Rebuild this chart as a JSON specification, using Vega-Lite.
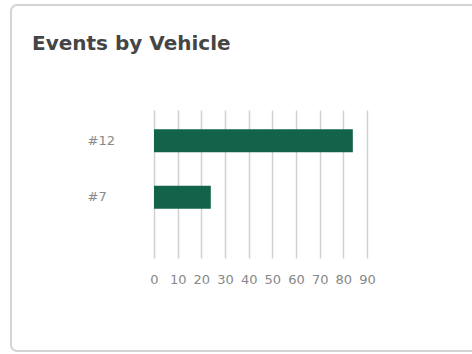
{
  "$schema": "https://vega.github.io/schema/vega-lite/v6.json",
  "width": 466,
  "height": 346,
  "autosize": "none",
  "padding": {"left": 11, "top": 5, "right": 0, "bottom": 3},
  "background": "white",
  "title": {
    "text": "Events by Vehicle",
    "anchor": "start",
    "frame": "group",
    "dx": 21,
    "offset": -65,
    "baseline": "alphabetic",
    "font": "DejaVu Sans",
    "fontSize": 20,
    "fontWeight": "bold",
    "color": "#454545"
  },
  "data": {
    "values": [
      {"vehicle": "#12", "events": 84},
      {"vehicle": "#7", "events": 24}
    ]
  },
  "mark": {"type": "bar", "color": "#13634b"},
  "encoding": {
    "y": {
      "field": "vehicle",
      "type": "nominal",
      "sort": ["#12", "#7"],
      "scale": {"range": [105, 223], "paddingInner": 0.592, "paddingOuter": 0.342},
      "axis": {
        "title": null,
        "ticks": false,
        "domain": false,
        "labelAlign": "left",
        "labelPadding": -76,
        "labelFont": "DejaVu Sans",
        "labelFontSize": 13,
        "labelColor": "#888888"
      }
    },
    "x": {
      "field": "events",
      "type": "quantitative",
      "scale": {"domain": [0, 90], "nice": false, "range": [143, 356]},
      "axis": {
        "title": null,
        "values": [0, 10, 20, 30, 40, 50, 60, 70, 80, 90],
        "grid": false,
        "ticks": true,
        "tickSize": -148,
        "tickColor": "#d0d0d0",
        "tickWidth": 1.5,
        "domain": false,
        "offset": -93,
        "labelPadding": 163,
        "labelFlush": false,
        "labelFont": "DejaVu Sans",
        "labelFontSize": 13,
        "labelColor": "#888888"
      }
    }
  },
  "config": {
    "view": {"stroke": "#d4d4d4", "strokeWidth": 2, "cornerRadius": 6, "fill": "white"}
  }
}
